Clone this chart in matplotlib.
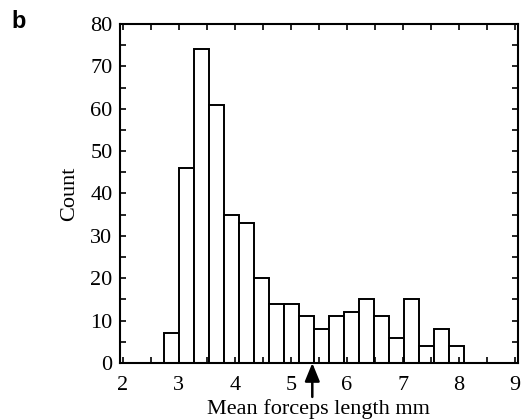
import numpy as np
import matplotlib
matplotlib.use("Agg")
import matplotlib.pyplot as plt
from matplotlib.ticker import MultipleLocator

# Histogram of mean forceps length (mm)
bin_start = 2.735
bin_width = 0.268
counts = [7, 46, 74, 61, 35, 33, 20, 14, 14, 11, 8, 11, 12, 15, 11, 6, 15, 4, 8, 4]
mean_length = 5.38

x_ticks = [2, 3, 4, 5, 6, 7, 8, 9]
y_ticks = [0, 10, 20, 30, 40, 50, 60, 70, 80]

plt.rcParams['font.family'] = ['Liberation Serif', 'DejaVu Serif']

fig = plt.figure(figsize=(5.23, 4.2), dpi=100)
ax = fig.add_axes([0.2285, 0.1357, 0.7619, 0.8072])

edges = bin_start + bin_width * np.arange(len(counts) + 1)
ax.bar(edges[:-1], counts, width=bin_width, align='edge',
       facecolor='white', edgecolor='black', linewidth=1.4)

ax.set_xlim(1.94, 9.05)
ax.set_ylim(0, 80)
ax.set_xticks(x_ticks)
ax.set_yticks(y_ticks)
ax.xaxis.set_minor_locator(MultipleLocator(0.5))
ax.yaxis.set_minor_locator(MultipleLocator(5))
ax.tick_params(which='both', direction='in', top=True, right=True,
               length=4, width=1.2, labelsize=16)
ax.tick_params(axis='x', pad=9)
ax.tick_params(axis='y', pad=5)
for s in ax.spines.values():
    s.set_linewidth(1.5)

ax.set_ylabel('Count', fontsize=16, labelpad=8)
ax.set_xlabel('Mean forceps length mm', fontsize=16, labelpad=3)

# arrow marking the mean
ax.annotate('', xy=(mean_length, 0), xycoords=('data', 'data'),
            xytext=(mean_length, -0.1), textcoords=('data', 'axes fraction'),
            arrowprops=dict(arrowstyle='-|>,head_length=1.1,head_width=0.45',
                            color='black', linewidth=1.8, shrinkA=0, shrinkB=0),
            annotation_clip=False)

fig.text(0.021, 0.933, 'b', fontsize=17, fontweight='bold',
         family='Liberation Sans', ha='left', va='baseline')

fig.savefig('out.png', dpi=100)
